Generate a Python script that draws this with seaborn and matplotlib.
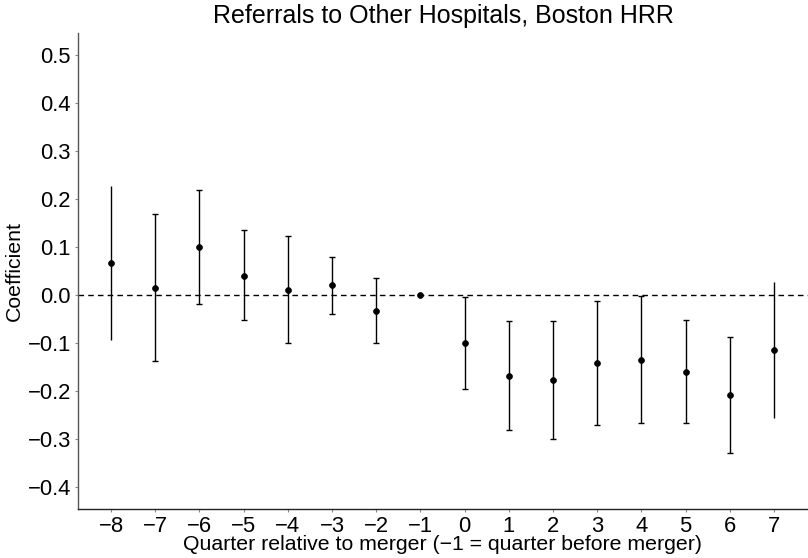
import numpy as np
import pandas as pd
import matplotlib
matplotlib.use('Agg')
import matplotlib.pyplot as plt
import seaborn as sns

# Coeficientes
quarters = [-8, -7, -6, -5, -4, -3, -2, -1, 0, 1, 2, 3, 4, 5, 6, 7]
coef = [0.066, 0.015, 0.100, 0.040, 0.010, 0.020, -0.033, 0.000,
        -0.101, -0.168, -0.177, -0.142, -0.135, -0.160, -0.209, -0.115]
ci_low = [-0.095, -0.138, -0.019, -0.053, -0.101, -0.039, -0.101, 0.000,
          -0.196, -0.282, -0.301, -0.272, -0.267, -0.266, -0.330, -0.257]
ci_high = [0.227, 0.168, 0.219, 0.135, 0.122, 0.079, 0.036, 0.000,
           -0.005, -0.054, -0.054, -0.013, -0.003, -0.053, -0.087, 0.027]
y_ticks = [-0.4, -0.3, -0.2, -0.1, 0.0, 0.1, 0.2, 0.3, 0.4, 0.5]

df = pd.DataFrame({'quarter': quarters, 'coef': coef, 'lo': ci_low, 'hi': ci_high})

sns.set_style('white')
plt.rcParams['font.family'] = ['Liberation Sans', 'DejaVu Sans']
plt.rcParams['text.color'] = 'black'
plt.rcParams['axes.labelcolor'] = 'black'
plt.rcParams['xtick.color'] = 'black'
plt.rcParams['ytick.color'] = 'black'

fig = plt.figure(figsize=(8.08, 5.58), dpi=100)
ax = fig.add_axes([0.0965, 0.088, 0.9035, 0.853])

ax.axhline(0, color='black', linestyle=(0, (4, 3)), linewidth=1.0, zorder=1)

# Intervalos: los extremos no llevan tope
inner = df[(df['quarter'] > -8) & (df['quarter'] < 7) & (df['quarter'] != -1)]
edge = df[df['quarter'].isin([-8, 7])]
ax.errorbar(inner['quarter'], inner['coef'],
            yerr=[inner['coef'] - inner['lo'], inner['hi'] - inner['coef']],
            fmt='none', ecolor='black', elinewidth=1.0, capsize=2.5, capthick=1.0, zorder=2)
ax.vlines(edge['quarter'], edge['lo'], edge['hi'], color='black', linewidth=1.0, zorder=2)

sns.scatterplot(data=df, x='quarter', y='coef', color='black', s=18,
                edgecolor='black', linewidth=0.5, zorder=3, ax=ax)

ax.set_xlim(-8.75, 7.77)
ax.set_ylim(-0.446, 0.546)
ax.set_xticks(quarters)
ax.set_xticklabels([str(q).replace('-', '\u2212') for q in quarters])
ax.set_yticks(y_ticks)
ax.set_yticklabels([f'{t:.1f}'.replace('-', '\u2212') for t in y_ticks])

ax.tick_params(axis='both', labelsize=15.8, length=2, width=0.8, color='#888888',
               direction='out', bottom=True, left=True, pad=3)
for side in ['top', 'right']:
    ax.spines[side].set_visible(False)
ax.spines['left'].set_color('#555555')
ax.spines['bottom'].set_color('#222222')
for side in ['left', 'bottom']:
    ax.spines[side].set_linewidth(1.0)

ax.set_xlabel('Quarter relative to merger (\u22121 = quarter before merger)', fontsize=15.3, labelpad=-1)
ax.set_ylabel('Coefficient', fontsize=15.3, labelpad=3)
ax.set_title('Referrals to Other Hospitals, Boston HRR', fontsize=18, pad=7)

fig.savefig('out.png', dpi=100)
